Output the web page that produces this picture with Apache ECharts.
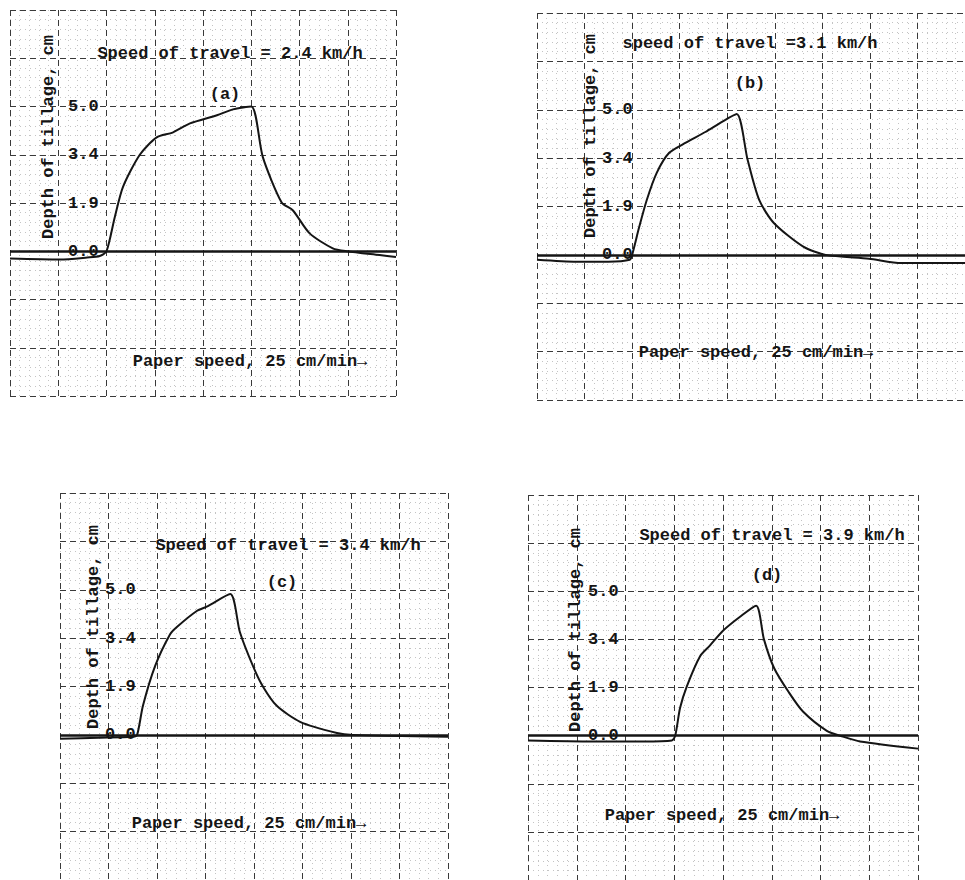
<!DOCTYPE html>
<html>
<head>
<meta charset="utf-8">
<script src="https://cdn.jsdelivr.net/npm/echarts@6/dist/echarts.min.js"></script>
<style>
  html, body { margin: 0; padding: 0; background: #fff; }
  #chart { width: 965px; height: 880px; }
</style>
</head>
<body>
<div id="chart"></div>
<script>
// y values are in chart-paper divisions; depthLabels gives the calibrated cm for divisions 0..3
const depthLabels = ["0.0", "1.9", "3.4", "5.0"];
const travelTitles = [
  "Speed of travel = 2.4 km/h",
  "speed of travel =3.1 km/h",
  "Speed of travel = 3.4 km/h",
  "Speed of travel = 3.9 km/h"
];
const panelTags = ["(a)", "(b)", "(c)", "(d)"];
const yName = "Depth of tillage, cm";
const paperNote = "Paper speed, 25 cm/min\u2192";

// recorder traces, [paper division, depth division]
const traceA = [
  [0, -0.15], [1.04, -0.17], [1.6, -0.13], [1.86, -0.1], [2.0, 0],
  [2.17, 0.7], [2.34, 1.33], [2.69, 2.0], [3.04, 2.36], [3.37, 2.46],
  [3.73, 2.65], [4.29, 2.82], [4.62, 2.94], [5.0, 3.0], [5.24, 1.95],
  [5.63, 1.01], [5.86, 0.85], [6.21, 0.37], [6.69, 0.06], [6.98, 0],
  [7.66, -0.08], [8.0, -0.12]
];
const traceB = [
  [0, -0.1], [0.83, -0.14], [1.5, -0.14], [1.95, -0.1], [2.0, 0],
  [2.15, 0.58], [2.31, 1.14], [2.52, 1.7], [2.78, 2.11], [3.13, 2.32],
  [3.54, 2.54], [3.89, 2.75], [4.2, 2.91], [4.43, 1.96], [4.67, 1.14],
  [4.98, 0.66], [5.6, 0.17], [6.07, 0], [6.98, -0.08], [7.66, -0.17],
  [9.0, -0.17]
];
const traceC = [
  [0, -0.08], [0.8, -0.06], [1.5, -0.04], [1.59, 0],
  [1.71, 0.6], [1.96, 1.42], [2.27, 2.08], [2.41, 2.23], [2.82, 2.56],
  [3.05, 2.66], [3.51, 2.91], [3.71, 2.12], [3.98, 1.42], [4.19, 0.99],
  [4.47, 0.6], [4.95, 0.27], [5.71, 0.04], [6.04, 0], [8.0, -0.04]
];
const traceD = [
  [0, -0.1], [1.33, -0.12], [2.36, -0.12], [2.95, -0.1], [3.02, 0],
  [3.12, 0.58], [3.26, 1.03], [3.53, 1.65], [3.73, 1.87], [4.0, 2.18],
  [4.35, 2.47], [4.68, 2.7], [4.84, 2.0], [5.05, 1.4], [5.35, 0.9],
  [5.64, 0.5], [6.13, 0.1], [6.46, -0.02], [6.81, -0.12], [8.0, -0.27]
];
const traces = [traceA, traceB, traceC, traceD];

const FONT = "'Liberation Mono', 'DejaVu Sans Mono', monospace";
const INK = "#151515";

// page layout of the four scanned panels
const panels = [
  { grid: { left: 10, top: 10, width: 386, height: 386 }, xMax: 8, margin: 58,
    title: [230, 53], tag: [225, 94], note: [250, 361], name: [48, 137] },
  { grid: { left: 537, top: 13, width: 437, height: 387 }, xMax: 9, margin: 65,
    title: [750, 43], tag: [750, 83], note: [756, 352], name: [590, 136] },
  { grid: { left: 60, top: 493, width: 388, height: 388 }, xMax: 8, margin: 45,
    title: [288, 545], tag: [282, 582], note: [249, 823], name: [93, 627] },
  { grid: { left: 528, top: 495, width: 390, height: 388 }, xMax: 8, margin: 60,
    title: [772, 535], tag: [767, 575], note: [722, 815], name: [575, 630] }
];

const majorLine = { show: true, lineStyle: { color: "#3a3a3a", width: 1, type: [6, 4] } };
const minorLine = { show: true, lineStyle: { color: "#c4c4c4", width: 1, type: [1, 4] } };

const grid = panels.map(p => p.grid);

const xAxis = panels.map((p, i) => ({
  type: "value", gridIndex: i, min: 0, max: p.xMax, interval: 1,
  axisLine: { show: false }, axisTick: { show: false }, axisLabel: { show: false },
  splitLine: majorLine, minorTick: { show: false, splitNumber: 5 }, minorSplitLine: minorLine
}));

const yAxis = panels.map((p, i) => ({
  type: "value", gridIndex: i, min: -3, max: 5, interval: 1,
  axisLine: { show: false }, axisTick: { show: false },
  axisLabel: {
    inside: true, margin: p.margin, color: INK, fontFamily: FONT, fontSize: 17,
    fontWeight: "bold", formatter: v => depthLabels[v] || ""
  },
  splitLine: majorLine, minorTick: { show: false, splitNumber: 5 }, minorSplitLine: minorLine
}));

const series = traces.map((data, i) => ({
  type: "line", xAxisIndex: i, yAxisIndex: i, data,
  smooth: 0.25, showSymbol: false, silent: true,
  lineStyle: { color: INK, width: 2 },
  markLine: {
    silent: true, symbol: "none", label: { show: false },
    lineStyle: { color: INK, width: 2.5, type: "solid" },
    data: [{ yAxis: 0 }]
  }
}));

const text = (x, y, str, extra) => ({
  type: "text", x, y, z: 10, ...extra,
  style: { text: str, font: "bold 17px " + FONT, fill: INK, align: "center", verticalAlign: "middle" }
});

const graphic = [];
panels.forEach((p, i) => {
  graphic.push(text(p.title[0], p.title[1], travelTitles[i]));
  graphic.push(text(p.tag[0], p.tag[1], panelTags[i]));
  graphic.push(text(p.note[0], p.note[1], paperNote));
  graphic.push(text(p.name[0], p.name[1], yName, { rotation: Math.PI / 2 }));
});

const chart = echarts.init(document.getElementById("chart"), null, { renderer: "svg" });
chart.setOption({
  animation: false,
  backgroundColor: "#fff",
  grid, xAxis, yAxis, series, graphic
});
</script>
</body>
</html>
